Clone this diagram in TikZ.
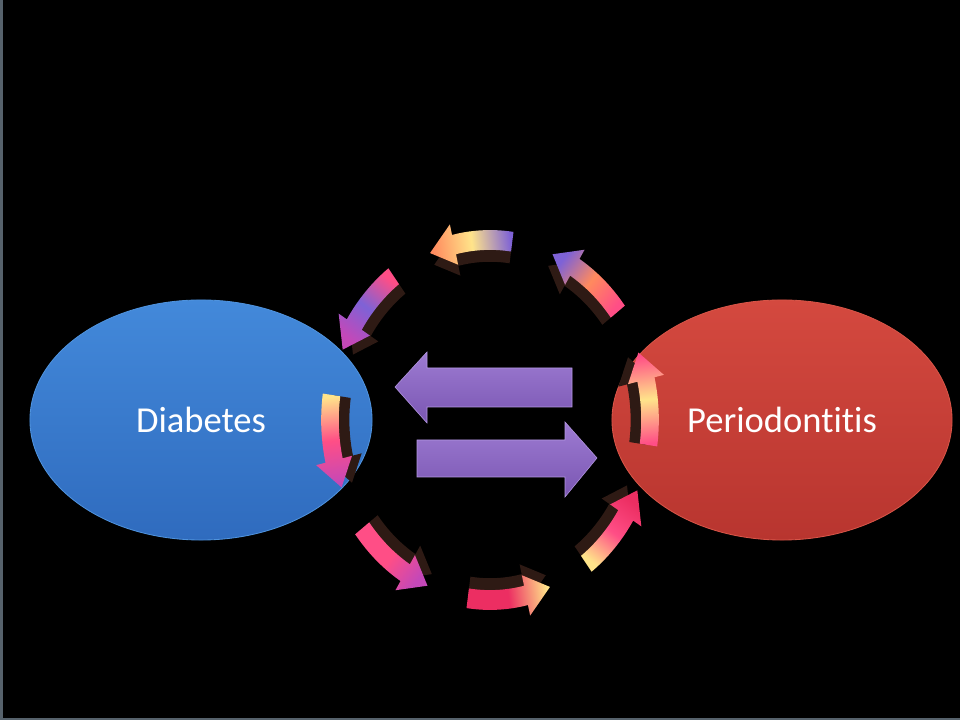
\documentclass[tikz,border=0pt]{standalone}
\usepackage{fontspec}
\setmainfont{Carlito}[Ligatures=CommonOff]
\usepackage{xcolor}
\usetikzlibrary{shapes.geometric}

\definecolor{bluetop}{HTML}{4389DA}
\definecolor{bluebot}{HTML}{2F6BBE}
\definecolor{blueedge}{HTML}{4F93DE}
\definecolor{redtop}{HTML}{D4493F}
\definecolor{redbot}{HTML}{B8352F}
\definecolor{rededge}{HTML}{D85548}
\definecolor{purptop}{HTML}{9D7BD2}
\definecolor{purpbot}{HTML}{7A56B2}
\definecolor{purpedge}{HTML}{B497E2}
\definecolor{shadowbrown}{HTML}{2E1A14}
\definecolor{sidegrey}{HTML}{56626C}
\definecolor{fireYel}{HTML}{FFE48A}
\definecolor{fireOra}{HTML}{FF8A5E}
\definecolor{firePink}{HTML}{FF4E86}
\definecolor{fireRed}{HTML}{EC2E62}
\definecolor{fireMag}{HTML}{C448B8}
\definecolor{firePur}{HTML}{7E62D6}

\begin{document}
\begin{tikzpicture}[x=0.025cm, y=0.025cm,
        bubble/.style={ellipse, inner sep=0pt, minimum width=8.55cm, minimum height=6cm,
            line width=0.6pt, text=white, font=\fontsize{26}{30}\selectfont},
        bigarrow/.style={top color=purptop, bottom color=purpbot, draw=purpedge, line width=0.4pt}]

    % background and side strips
    \fill[black](0, 0) rectangle (960, 720);
    \fill[sidegrey](0, 0) rectangle (3, 720);
    \fill[sidegrey](0, 0) rectangle (960, 2);

    % the two conditions
    \node[bubble, top color=bluetop, bottom color=bluebot, draw=blueedge] (diab) at (201, 300) {Diabetes};
    \node[bubble, top color=redtop, bottom color=redbot, draw=rededge, minimum width=8.5cm] (perio) at (782, 300) {Periodontitis};

    % two-way arrows in the middle
    \path[bigarrow](395, 333)--(427, 368)--(427, 352)--(572, 352)--(572, 313)--(427, 313)--(427, 297)--cycle;
    \path[bigarrow](597, 262)--(565, 298)--(565, 280)--(417, 280)--(417, 243)--(565, 243)--(565, 223)--cycle;

    % ring of small curved arrows
    \begin{scope}[shift={(490, 300)}, x=4cm, y=4.5cm]
        \foreach \a/\ch/\cm/\ct [evaluate=\a as \m using \a+21, evaluate=\a as \e using \a+30, evaluate=\a as \s using \a+15]
            in {-8/firePink/fireYel/firePink, 37/firePur/fireOra/firePink, 82/fireOra/fireYel/firePur,
                127/fireMag/firePur/firePink, 172/fireMag/firePink/fireYel, 217/fireMag/firePink/firePink,
                262/fireYel/fireRed/fireRed, 307/fireRed/firePink/fireYel}{
            \fill[shadowbrown, scale=0.93]plot[domain=\a:\m, samples=12](\x:1.055)--(\m:1.115)--(\e:1)
                --(\m:0.885)--plot[domain=\m:\a, samples=12](\x:0.945)--cycle;
            \path[top color=\ch, bottom color=\ct, middle color=\cm, shading angle=\s]
                plot[domain=\a:\m, samples=12](\x:1.055)--(\m:1.115)--(\e:1)
                --(\m:0.885)--plot[domain=\m:\a, samples=12](\x:0.945)--cycle;
        }
    \end{scope}
\end{tikzpicture}
\end{document}
